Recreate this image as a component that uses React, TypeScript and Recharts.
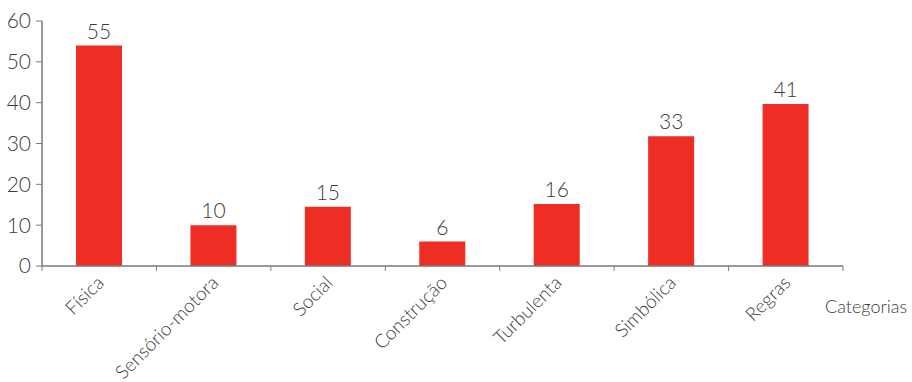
import React from "react";
import { BarChart, Bar, XAxis, YAxis, LabelList } from "recharts";

const categories = ["Física", "Sensório-motora", "Social", "Construção", "Turbulenta", "Simbólica", "Regras"];
const values = [54, 10, 14.5, 6, 15.2, 31.8, 39.7];
const valueLabels = ["55", "10", "15", "6", "16", "33", "41"];
const yTicks = [0, 10, 20, 30, 40, 50, 60];
const xAxisTitle = "Categorias";

const data = categories.map((c, i) => ({ name: c, value: values[i], label: valueLabels[i] }));

const FONT = "Lato, 'Open Sans', sans-serif";
const TEXT = "#3c3c3c";
const AXIS = "#7a7a7a";

const XTick = (props: any) => {
  const { x, y, payload, index, visibleTicksCount } = props;
  const off = payload.offset || 0;
  return (
    <g>
      <line x1={x - off} x2={x - off} y1={y} y2={y + 5} stroke={AXIS} strokeWidth={1} />
      {index === visibleTicksCount - 1 && (
        <line x1={x + off} x2={x + off} y1={y} y2={y + 5} stroke={AXIS} strokeWidth={1} />
      )}
      <text
        x={x + 6}
        y={y + 18}
        textAnchor="end"
        transform={`rotate(-45, ${x + 6}, ${y + 18})`}
        fontFamily={FONT}
        fontSize={19}
        fontWeight={300}
        fill={TEXT}
      >
        {payload.value}
      </text>
    </g>
  );
};

const AxisTitle = (props: any) => {
  const vb = props.viewBox || {};
  return (
    <text
      x={vb.x + vb.width - 18}
      y={313}
      textAnchor="start"
      fontFamily={FONT}
      fontSize={18}
      fontWeight={300}
      fill={TEXT}
    >
      {xAxisTitle}
    </text>
  );
};

export default function App() {
  return (
    <div style={{ position: "absolute", left: 0, top: 0, background: "#fff" }}>
      <BarChart
        width={912}
        height={382}
        data={data}
        margin={{ top: 21, right: 69, bottom: 0, left: 0 }}
        barCategoryGap={0}
      >
        <XAxis
          dataKey="name"
          height={116}
          interval={0}
          tickLine={false}
          tickSize={0}
          tickMargin={0}
          axisLine={{ stroke: AXIS, strokeWidth: 1.5 }}
          tick={<XTick />}
          label={<AxisTitle />}
        />
        <YAxis
          width={42}
          domain={[0, 60]}
          ticks={yTicks}
          interval={0}
          tickSize={6}
          tickMargin={5}
          axisLine={{ stroke: AXIS, strokeWidth: 1.5 }}
          tickLine={{ stroke: AXIS }}
          tick={{ fontFamily: FONT, fontSize: 21, fontWeight: 300, fill: TEXT }}
        />
        <Bar dataKey="value" fill="#ee2e24" barSize={46} isAnimationActive={false}>
          <LabelList
            dataKey="label"
            position="top"
            offset={7}
            style={{ fontFamily: FONT, fontSize: 21, fontWeight: 300, fill: TEXT }}
          />
        </Bar>
      </BarChart>
    </div>
  );
}
